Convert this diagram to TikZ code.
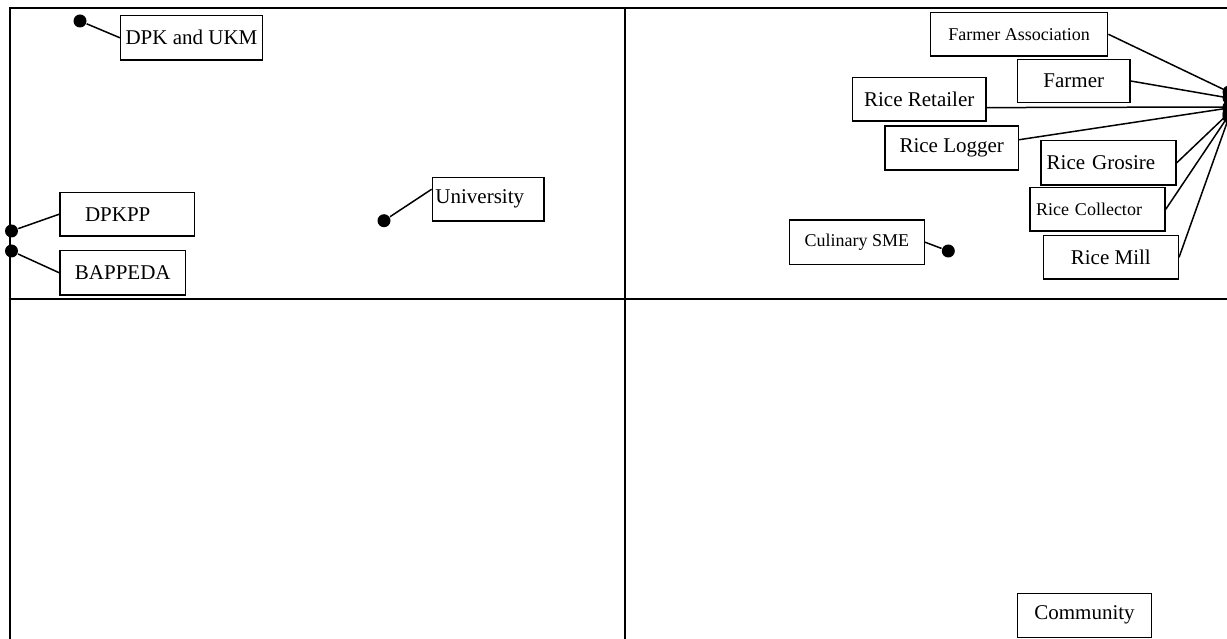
\documentclass[tikz,border=0pt]{standalone}
\usepackage{fontspec}
\setmainfont{Liberation Serif}
\begin{document}
\begin{tikzpicture}[x=1pt, y=-1pt, line width=1.5pt,
		actor/.style={draw, fill=white, inner sep=0pt, font=\fontsize{21}{25}\selectfont},
		small/.style={font=\fontsize{18}{22}\selectfont},
		lefttext/.style={align=left, inner xsep=#1},
		dot/.style={circle, fill=black, inner sep=0pt, minimum size=13pt}]
	\useasboundingbox (0,0) rectangle (1227,639);
	\clip (0,0) rectangle (1227,639);
	% quadrants
	\draw (10,660) -- (10,8) -- (1250,8);
	\draw (625,8) -- (625,660);
	\draw (10,299) -- (1250,299);
	% upper left
	\node[actor, minimum width=141.6pt, minimum height=44.3pt] (dpk) at (191.5,37.8) {DPK and UKM};
	\node[actor, lefttext=25pt, text width=84.4pt, minimum height=43.7pt] (dpkpp) at (127.2,214.2) {DPKPP};
	\node[actor, minimum width=125.6pt, minimum height=44.3pt] (bappeda) at (122.8,272.8) {BAPPEDA};
	\node[actor, lefttext=3pt, text width=105.7pt, minimum height=43.7pt] (univ) at (488.3,199.2) {University};
	\node[dot] (dpkdot) at (80,21) {};
	\node[dot] (dpkppdot) at (11.5,231) {};
	\node[dot] (bappedadot) at (11.5,251) {};
	\node[dot] (univdot) at (384,220.7) {};
	\draw (dpkdot) -- (dpk.west);
	\draw (dpkppdot) -- (dpkpp.west);
	\draw (bappedadot) -- (bappeda.west);
	\draw (univdot) -- (univ.170);
	% upper right
	\node[actor, small, minimum width=135pt, minimum height=44.3pt] (culinary) at (856.8,242.2) {Culinary SME};
	\node[actor, small, minimum width=177pt, minimum height=43.3pt] (assoc) at (1019.2,34.3) {Farmer Association};
	\node[actor, minimum width=112.3pt, minimum height=43.4pt] (farmer) at (1073.8,81) {Farmer};
	\node[actor, minimum width=133.7pt, minimum height=43.3pt] (retailer) at (919.2,99.3) {Rice Retailer};
	\node[actor, minimum width=133.3pt, minimum height=44pt] (logger) at (951.7,148) {Rice Logger};
	\node[actor, lefttext=5.7pt, text width=123.6pt, minimum height=44.3pt] (grosire) at (1108.5,162.8) {Rice Grosire};
	\node[actor, small, lefttext=6pt, text width=123pt, minimum height=43.3pt] (collector) at (1097.5,209.3) {Rice Collector};
	\node[actor, minimum width=135pt, minimum height=43.3pt] (mill) at (1110.8,257.3) {Rice Mill};
	\node[dot] (culinarydot) at (948.3,251) {};
	\node[dot] (assocdot) at (1229,92) {};
	\node[dot] (farmerdot) at (1229,98) {};
	\node[dot] (retailerdot) at (1229,107) {};
	\node[dot] (loggerdot) at (1229,108) {};
	\node[dot] (grosiredot) at (1229,113) {};
	\node[dot] (collectordot) at (1229,115) {};
	\node[dot] (milldot) at (1229,117) {};
	\draw (culinarydot) -- (culinary.east);
	\draw (assocdot.center) -- (assoc.east);
	\draw (farmerdot.center) -- (farmer.east);
	\draw (retailerdot.center) -- (retailer.-7);
	\draw (loggerdot.center) -- (logger.7);
	\draw (grosiredot.center) -- (grosire.east);
	\draw (collectordot.center) -- (collector.east);
	\draw (milldot.center) -- (mill.east);
	% lower right
	\node[actor, minimum width=134.4pt, minimum height=44pt] (community) at (1084.5,615.3) {Community};
\end{tikzpicture}
\end{document}
